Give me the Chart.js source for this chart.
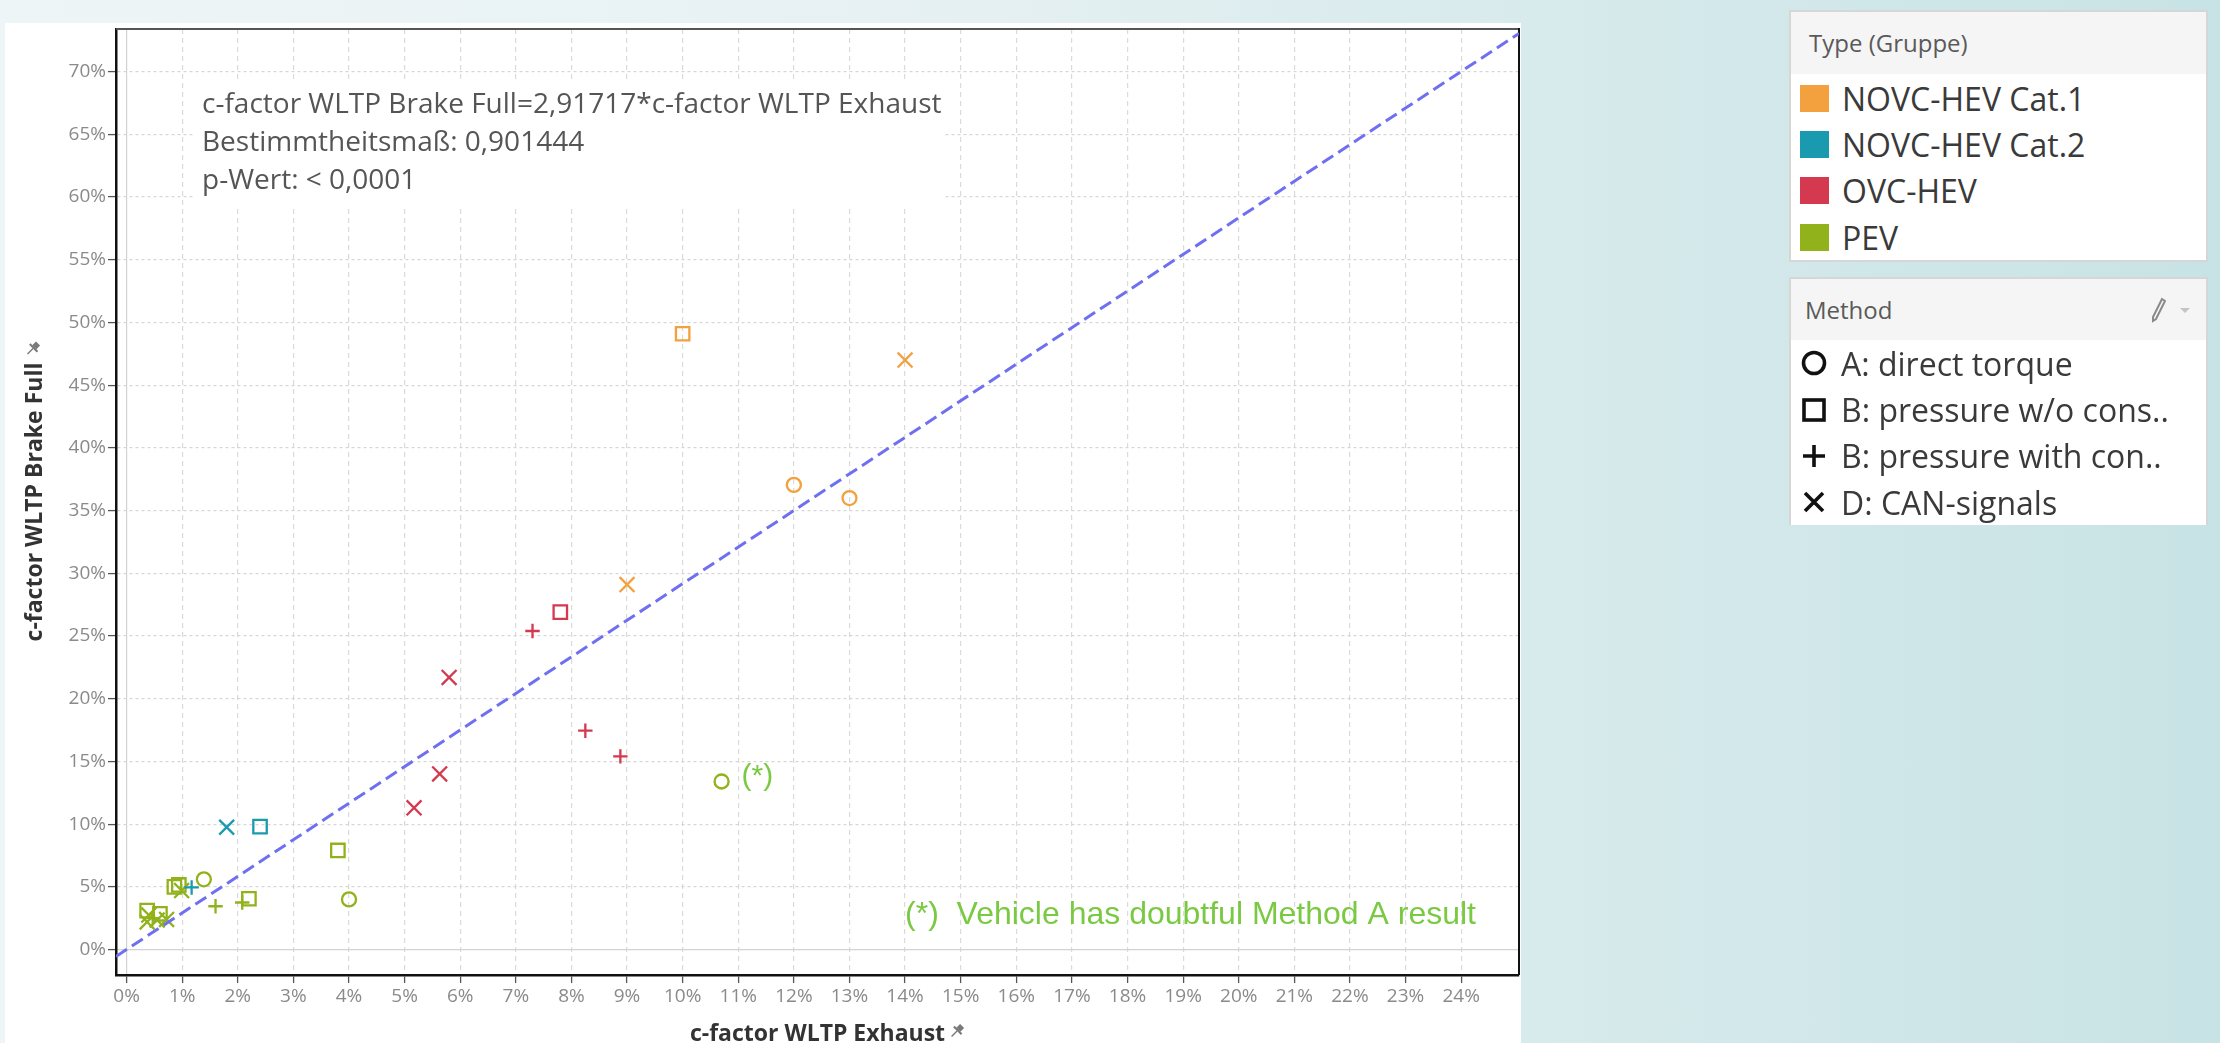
<!DOCTYPE html>
<html>
<head>
<meta charset="utf-8">
<title>c-factor WLTP Brake Full vs. Exhaust</title>
<script src="https://cdn.jsdelivr.net/npm/chart.js@4/dist/chart.umd.min.js"></script>
<style>
  html, body { margin: 0; padding: 0; width: 2220px; height: 1043px; overflow: hidden; }
  body {
    position: relative;
    font-family: "Open Sans", "Noto Sans", sans-serif;
    background: linear-gradient(90deg, #eef5f7 0%, #e7f1f3 40%, #d7eaec 70%, #c8e3e5 100%);
  }
  #sheet { position: absolute; left: 5px; top: 23px; width: 1516px; height: 1020px; background: #fff; }
  #chart { position: absolute; left: 0; top: 0; }
  .legend {
    position: absolute; left: 1789px; width: 419px; box-sizing: border-box;
    background: #fff; border: 2px solid #d6d6d6; overflow: hidden;
  }
  .lhead {
    position: relative; background: #f5f5f5; color: #5a5a5a; font-size: 24px;
    padding-left: 18px; box-sizing: border-box;
  }
  .row { height: 46.4px; display: flex; align-items: center; padding-left: 9px; color: #3a3a3a; font-size: 32px; white-space: nowrap; }
  .sw { width: 29px; height: 27px; margin-right: 13px; flex: none; }
  .sym { width: 28px; height: 28px; margin-right: 13px; flex: none; }
  .icons { position: absolute; right: 14px; top: 0; height: 100%; display: flex; align-items: center; gap: 12px; }
</style>
</head>
<body>
<div id="sheet"></div>
<canvas id="chart" width="2220" height="1043"></canvas>

<div class="legend" style="top:10px;height:252px;">
  <div class="lhead" style="height:62px;line-height:62px;">Type (Gruppe)</div>
  <div id="typeItems" style="padding-top:1px;"></div>
</div>
<div class="legend" style="top:277px;height:248px;border-bottom:none;">
  <div class="lhead" style="height:61px;line-height:61px;padding-left:14px;">Method
    <span class="icons">
      <svg width="16" height="26" viewBox="0 0 16 26"><path d="M12 2 L15 4 L6 22 L3 24 L3 20 Z" fill="none" stroke="#8a8a8a" stroke-width="2"/></svg>
      <svg width="14" height="10" viewBox="0 0 14 10"><path d="M2 3 L12 3 L7 8 Z" fill="#c4c4c4"/></svg>
    </span>
  </div>
  <div id="methodItems" style="padding-top:0px;"></div>
</div>

<script>
// ---- categories ----
const typeNames  = ['NOVC-HEV Cat.1', 'NOVC-HEV Cat.2', 'OVC-HEV', 'PEV'];
const typeColors = ['#f3a03f', '#1a9aae', '#d4394f', '#92b21c'];
const methodNames = ['A: direct torque', 'B: pressure w/o cons..', 'B: pressure with con..', 'D: CAN-signals'];

// ---- vehicles: c-factor WLTP Exhaust (%) and c-factor WLTP Brake Full (%) ----
const exhaust   = [10.0, 14.0, 12.0, 13.0, 9.0,
                   1.8, 2.4, 1.17,
                   7.8, 7.3, 5.8, 8.25, 8.88, 5.63, 5.17,
                   10.7, 3.8, 4.0, 2.2, 2.08, 1.6, 1.39, 0.86, 0.94, 0.99, 0.37, 0.6, 0.4, 0.37, 0.47, 0.55, 0.72];
const brakeFull = [49.1, 47.0, 37.05, 36.0, 29.1,
                   9.75, 9.8, 4.95,
                   26.9, 25.4, 21.7, 17.45, 15.4, 14.0, 11.3,
                   13.4, 7.9, 4.0, 4.05, 3.75, 3.45, 5.6, 5.0, 5.15, 4.7, 3.1, 2.85, 2.75, 2.2, 2.5, 2.35, 2.4];
// index into typeNames
const vehicleType = [0, 0, 0, 0, 0,
                     1, 1, 1,
                     2, 2, 2, 2, 2, 2, 2,
                     3, 3, 3, 3, 3, 3, 3, 3, 3, 3, 3, 3, 3, 3, 3, 3, 3];
// index into methodNames
const vehicleMethod = [1, 3, 0, 0, 3,
                       3, 1, 2,
                       1, 2, 3, 2, 2, 3, 3,
                       0, 1, 0, 1, 2, 2, 0, 1, 1, 3, 1, 1, 3, 3, 2, 3, 3];
// vehicle flagged with a doubtful Method A result
const doubtfulVehicles = [15];

// ---- linear trend (through origin) ----
const trendSlope = 2.91717;
const trendLines = ['c-factor WLTP Brake Full=2,91717*c-factor WLTP Exhaust',
                    'Bestimmtheitsmaß: 0,901444',
                    'p-Wert: < 0,0001'];
const footnote = '(*)  Vehicle has doubtful Method A result';
const noteMark = '(*)';

// ---- axes ----
const xTickValues = [0,1,2,3,4,5,6,7,8,9,10,11,12,13,14,15,16,17,18,19,20,21,22,23,24];
const yTickValues = [0,5,10,15,20,25,30,35,40,45,50,55,60,65,70];
const xRange = [-0.19, 25.04];
const yRange = [-2.03, 73.4];
const xTitle = 'c-factor WLTP Exhaust';
const yTitle = 'c-factor WLTP Brake Full';

// marker shapes per method
const methodStyle  = ['circle', 'rect', 'cross', 'crossRot'];
const methodRadius = [7, 9.5, 7.2, 10.5];

// ---- legends (HTML) ----
const typeBox = document.getElementById('typeItems');
typeNames.forEach((n, i) => {
  const r = document.createElement('div'); r.className = 'row';
  r.innerHTML = '<div class="sw" style="background:' + typeColors[i] + '"></div><span></span>';
  r.querySelector('span').textContent = n;
  typeBox.appendChild(r);
});
const symSvg = [
  '<circle cx="14" cy="14" r="10.5" fill="none" stroke="#111" stroke-width="3.6"/>',
  '<rect x="4" y="4" width="20" height="20" fill="none" stroke="#111" stroke-width="3.6"/>',
  '<path d="M14 3 V25 M3 14 H25" stroke="#111" stroke-width="3.6"/>',
  '<path d="M5 5 L23 23 M23 5 L5 23" stroke="#111" stroke-width="3.6"/>'
];
const methodBox = document.getElementById('methodItems');
methodNames.forEach((n, i) => {
  const r = document.createElement('div'); r.className = 'row';
  r.innerHTML = '<svg class="sym" viewBox="0 0 28 28">' + symSvg[i] + '</svg><span></span>';
  r.querySelector('span').textContent = n;
  methodBox.appendChild(r);
});

// ---- datasets: one per vehicle type ----
const datasets = typeNames.map((name, t) => {
  const idx = exhaust.map((_, i) => i).filter(i => vehicleType[i] === t);
  return {
    label: name,
    data: idx.map(i => ({ x: exhaust[i], y: brakeFull[i], vehicle: i })),
    pointStyle: idx.map(i => methodStyle[vehicleMethod[i]]),
    pointRadius: idx.map(i => methodRadius[vehicleMethod[i]]),
    pointBorderColor: typeColors[t],
    pointBackgroundColor: 'rgba(0,0,0,0)',
    pointBorderWidth: 2.3,
    showLine: false,
    order: 1
  };
});
datasets.push({
  label: 'trend',
  type: 'line',
  data: xRange.map(x => ({ x: x, y: trendSlope * x })),
  borderColor: '#6f6ff2',
  borderWidth: 3,
  borderDash: [13, 6],
  pointRadius: 0,
  showLine: true,
  fill: false,
  order: 0
});

const tickFont = { family: '"Open Sans", sans-serif', size: 19 };

function drawPin(ctx, x, y, s, color) {
  ctx.save();
  ctx.translate(x, y);
  ctx.rotate(Math.PI / 4);
  ctx.fillStyle = color; ctx.strokeStyle = color; ctx.lineWidth = 1.4;
  ctx.fillRect(-s * 0.22, -s * 0.55, s * 0.44, s * 0.42);
  ctx.fillRect(-s * 0.42, -s * 0.15, s * 0.84, s * 0.16);
  ctx.beginPath(); ctx.moveTo(0, 0); ctx.lineTo(0, s * 0.6); ctx.stroke();
  ctx.restore();
}

// frame, statistics box, notes and axis titles
const decorPlugin = {
  id: 'decor',
  beforeDatasetsDraw(chart) {
    const { ctx, chartArea: a } = chart;
    ctx.save();
    // statistics box over the grid
    ctx.fillStyle = '#fff';
    ctx.fillRect(a.left + 79, 83, 750, 124);
    ctx.fillStyle = '#555';
    ctx.font = '28px "Open Sans", sans-serif';
    ctx.textBaseline = 'middle';
    ctx.textAlign = 'left';
    trendLines.forEach((t, i) => ctx.fillText(t, a.left + 86, 105 + i * 38));
    // top and right frame
    ctx.strokeStyle = '#555';
    ctx.lineWidth = 2;
    ctx.beginPath();
    ctx.moveTo(a.left, a.top); ctx.lineTo(a.right, a.top);
    ctx.stroke();
    ctx.strokeStyle = '#111';
    ctx.beginPath();
    ctx.moveTo(a.right, a.top - 1); ctx.lineTo(a.right, a.bottom);
    ctx.stroke();
    ctx.restore();
  },
  afterDatasetsDraw(chart) {
    const { ctx, chartArea: a } = chart;
    ctx.save();
    ctx.fillStyle = '#7ac943';
    ctx.textBaseline = 'middle';
    // note beside flagged vehicles
    ctx.font = '30px "Liberation Sans", Arial, sans-serif';
    ctx.textAlign = 'left';
    chart.data.datasets.forEach((ds, d) => {
      const meta = chart.getDatasetMeta(d);
      ds.data.forEach((p, j) => {
        if (p.vehicle !== undefined && doubtfulVehicles.includes(p.vehicle)) {
          const el = meta.data[j];
          ctx.fillText(noteMark, el.x + 20, el.y - 5);
        }
      });
    });
    // footnote
    ctx.font = '32px "Liberation Sans", Arial, sans-serif';
    ctx.textAlign = 'right';
    ctx.fillText(footnote, a.right - 43, a.bottom - 60);

    // axis titles with pin marks
    ctx.fillStyle = '#333';
    ctx.font = 'bold 23px "Open Sans", sans-serif';
    ctx.textBaseline = 'alphabetic';
    ctx.textAlign = 'center';
    const cx = (a.left + a.right) / 2;
    ctx.fillText(xTitle, cx, 1041);
    const wx = ctx.measureText(xTitle).width;
    drawPin(ctx, cx + wx / 2 + 12, 1031, 13, '#7a7a7a');

    const cy = (a.top + a.bottom) / 2;
    ctx.save();
    ctx.translate(42, cy);
    ctx.rotate(-Math.PI / 2);
    ctx.fillText(yTitle, 0, 0);
    ctx.restore();
    const wy = ctx.measureText(yTitle).width;
    drawPin(ctx, 33, cy - wy / 2 - 14, 13, '#7a7a7a');
    ctx.restore();
  }
};

const zeroOr = (ctx, a, b) => (ctx.tick && ctx.tick.value === 0 ? a : b);

new Chart(document.getElementById('chart'), {
  type: 'scatter',
  data: { datasets: datasets },
  options: {
    responsive: false,
    animation: false,
    events: [],
    layout: { padding: { left: 0, top: 29, right: 701, bottom: 0 } },
    plugins: { legend: { display: false }, tooltip: { enabled: false } },
    scales: {
      x: {
        type: 'linear',
        min: xRange[0], max: xRange[1],
        afterBuildTicks: s => { s.ticks = xTickValues.map(v => ({ value: v })); },
        afterFit: s => { s.height = 68; },
        ticks: { color: '#8a8a8a', font: tickFont, padding: 2, maxRotation: 0, autoSkip: false,
                 callback: v => v + '%' },
        grid: {
          color: c => zeroOr(c, '#d2d2d2', '#dadada'),
          lineWidth: 1.2,
          drawTicks: true, tickLength: 8, tickColor: '#555', tickWidth: 1.3
        },
        border: { display: true, color: '#111', width: 2.5, dash: c => zeroOr(c, [], [5, 4]) }
      },
      y: {
        type: 'linear',
        min: yRange[0], max: yRange[1],
        afterBuildTicks: s => { s.ticks = yTickValues.map(v => ({ value: v })); },
        afterFit: s => { s.width = 116; },
        ticks: { color: '#8a8a8a', font: tickFont, padding: 2, autoSkip: false,
                 callback: v => v + '%' },
        grid: {
          color: c => zeroOr(c, '#d2d2d2', '#d6d6d6'),
          lineWidth: 1.2,
          drawTicks: true, tickLength: 8, tickColor: '#555', tickWidth: 1.3
        },
        border: { display: true, color: '#111', width: 2.5, dash: c => zeroOr(c, [], [3, 3]) }
      }
    }
  },
  plugins: [decorPlugin]
});
</script>
</body>
</html>
